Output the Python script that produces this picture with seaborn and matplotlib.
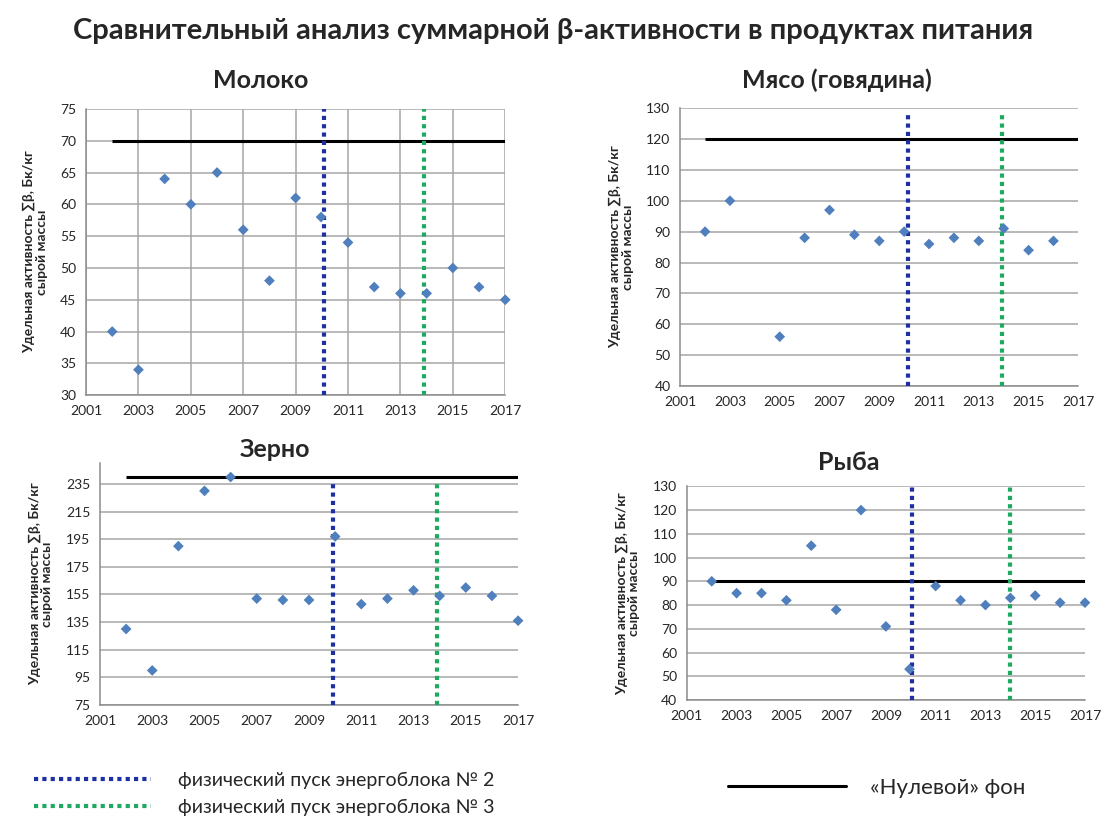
import pandas as pd
import numpy as np
import seaborn as sns
import matplotlib.pyplot as plt
from matplotlib.lines import Line2D

# data
milk_years = [2002, 2003, 2004, 2005, 2006, 2007, 2008, 2009, 2009.97, 2011, 2012, 2013, 2014, 2015, 2016, 2017]
milk_vals = [40, 34, 64, 60, 65, 56, 48, 61, 58, 54, 47, 46, 46, 50, 47, 45]

meat_years = [2002, 2003, 2005, 2006, 2007, 2008, 2009, 2010, 2011, 2012, 2013, 2014, 2015, 2016]
meat_vals = [90, 100, 56, 88, 97, 89, 87, 90, 86, 88, 87, 91, 84, 87]

grain_years = [2002, 2003, 2004, 2005, 2006, 2007, 2008, 2009, 2010, 2011, 2012, 2013, 2014, 2015, 2016, 2017]
grain_vals = [130, 100, 190, 230, 240, 152, 151, 151, 197, 148, 152, 158, 154, 160, 154, 136]

fish_years = [2002, 2003, 2004, 2005, 2006, 2007, 2008, 2009, 2009.95, 2011, 2012, 2013, 2014, 2015, 2016, 2017]
fish_vals = [90, 85, 85, 82, 105, 78, 120, 71, 53, 88, 82, 80, 83, 84, 81, 81]

# "zero" background level per product
zero_bg = {'Молоко': 70, 'Мясо (говядина)': 120, 'Зерно': 240, 'Рыба': 90}
# reactor unit start-up years (as drawn in each panel)
unit2 = {'Молоко': 2010.1, 'Мясо (говядина)': 2010.17, 'Зерно': 2009.9, 'Рыба': 2010.05}
unit3 = {'Молоко': 2013.9, 'Мясо (говядина)': 2013.92, 'Зерно': 2013.9, 'Рыба': 2014.0}

panels = [
    ('Молоко', milk_years, milk_vals, (30, 75), np.arange(30, 76, 5), (30, 75)),
    ('Мясо (говядина)', meat_years, meat_vals, (40, 130), np.arange(40, 131, 10), (40, 128)),
    ('Зерно', grain_years, grain_vals, (75, 250), np.arange(75, 236, 20), (75, 236)),
    ('Рыба', fish_years, fish_vals, (40, 130), np.arange(40, 131, 10), (40, 131)),
]

sns.set_style('white')
plt.rcParams['font.family'] = ['Lato', 'DejaVu Sans']

BLUE = '#1c2fa3'
GREEN = '#1fa862'
MARK = '#4f7fbd'

fig = plt.figure(figsize=(11.06, 8.25), dpi=100)
positions = [
    [0.0778, 0.521, 0.379, 0.347],
    [0.615, 0.532, 0.360, 0.337],
    [0.0904, 0.1455, 0.378, 0.293],
    [0.621, 0.1515, 0.360, 0.259],
]
# panel title centres (figure fraction)
title_xy = [(0.236, 0.903), (0.757, 0.903), (0.249, 0.455), (0.767, 0.44)]

ylabel = 'Удельная активность ∑β, Бк/кг\nсырой массы'

for i, (name, yrs, vals, ylim, yticks, vspan) in enumerate(panels):
    ax = fig.add_axes(positions[i])
    df = pd.DataFrame({'year': yrs, 'value': vals})

    ax.set_xlim(2001, 2017)
    ax.set_ylim(*ylim)
    ax.set_yticks(yticks)
    ax.set_xticks(np.arange(2001, 2018, 2))
    ax.yaxis.grid(True, color='#a6a6a6', lw=1.1)
    if name == 'Молоко':
        ax.xaxis.grid(True, color='#a6a6a6', lw=1.1)
    ax.set_axisbelow(True)

    ax.hlines(zero_bg[name], 2002, 2017, color='black', lw=2.2, zorder=3)
    ax.vlines(unit2[name], vspan[0], vspan[1], color=BLUE, lw=3, linestyles=(0, (1, 1)), zorder=4)
    ax.vlines(unit3[name], vspan[0], vspan[1], color=GREEN, lw=3, linestyles=(0, (1, 1)), zorder=4)

    sns.scatterplot(data=df, x='year', y='value', ax=ax, marker='D', s=30,
                    color=MARK, edgecolor='none', zorder=5, clip_on=False)

    for side in ['top', 'right']:
        ax.spines[side].set_visible(False)
    for side in ['left', 'bottom']:
        ax.spines[side].set_color('#8c8c8c')
        ax.spines[side].set_linewidth(1.1)
    ax.tick_params(axis='both', labelsize=10, length=4, color='#8c8c8c', pad=3)
    ax.set_xlabel('')
    ax.set_ylabel(ylabel, fontsize=10, fontweight='bold', labelpad=9, linespacing=1.05)
    fig.text(title_xy[i][0], title_xy[i][1], name, ha='center', va='center',
             fontsize=18, fontweight='bold')

fig.text(0.5, 0.962, 'Сравнительный анализ суммарной β-активности в продуктах питания',
         ha='center', va='center', fontsize=21, fontweight='bold')

# legends
h2 = Line2D([], [], color=BLUE, lw=3, linestyle=(0, (1, 1)))
h3 = Line2D([], [], color=GREEN, lw=3, linestyle=(0, (1, 1)))
h0 = Line2D([], [], color='black', lw=2.2)
fig.legend([h2, h3], ['физический пуск энергоблока № 2', 'физический пуск энергоблока № 3'],
           loc='center left', bbox_to_anchor=(0.015, 0.038), frameon=False, fontsize=14,
           handlelength=6.0, handletextpad=1.4, labelspacing=0.5)
fig.legend([h0], ['«Нулевой» фон'], loc='center left', bbox_to_anchor=(0.64, 0.045),
           frameon=False, fontsize=16, handlelength=5.3, handletextpad=1.1)

plt.savefig('out.png', dpi=100)
